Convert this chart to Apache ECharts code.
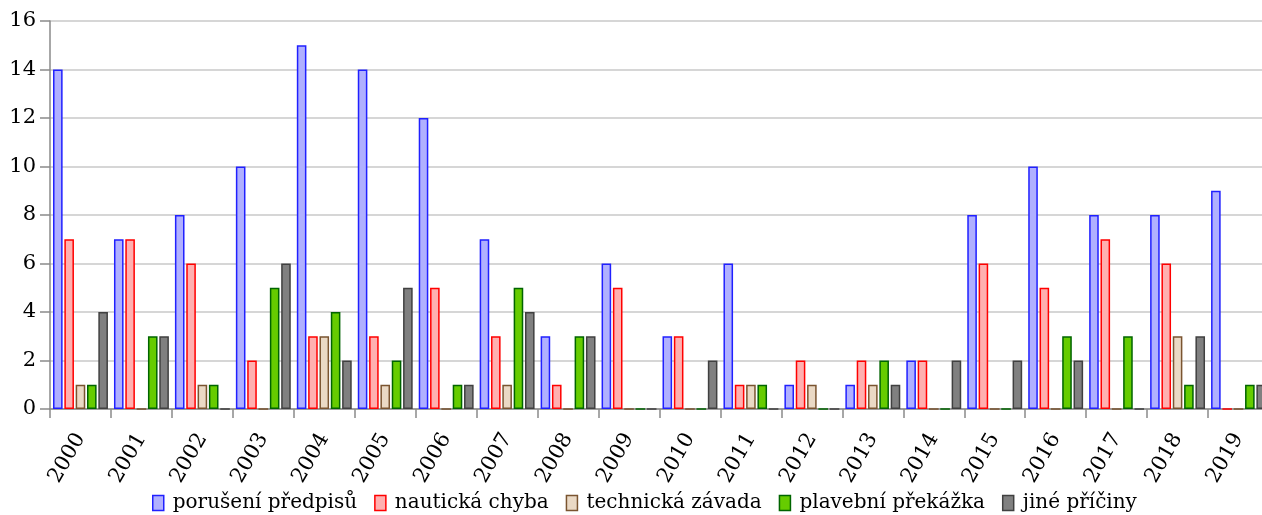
<!DOCTYPE html>
<html><head><meta charset="utf-8">
<script src="https://cdn.jsdelivr.net/npm/echarts@6/dist/echarts.min.js"></script>
<style>html,body{margin:0;padding:0;background:#fff;overflow:hidden}#c{width:1272px;height:515px}</style>
</head><body><div id="c"></div>
<script>
const years = ['2000','2001','2002','2003','2004','2005','2006','2007','2008','2009','2010','2011','2012','2013','2014','2015','2016','2017','2018','2019'];
const seriesNames = ['porušení předpisů','nautická chyba','technická závada','plavební překážka','jiné příčiny'];
const poruseni  = [14,7,8,10,15,14,12,7,3,6,3,6,1,1,2,8,10,8,8,9];
const nauticka  = [7,7,6,2,3,3,5,3,1,5,3,1,2,2,2,6,5,7,6,0];
const technicka = [1,0,1,0,3,1,0,1,0,0,0,1,1,1,0,0,0,0,3,0];
const plavebni  = [1,3,1,5,4,2,1,5,3,0,0,1,0,2,0,0,3,3,1,1];
const jine      = [4,3,0,6,2,5,1,4,3,0,2,0,0,1,2,2,2,0,3,1];
const yTicks = [0,2,4,6,8,10,12,14,16];

const fills = ['#b0b0ff','#ffb0b0','#ead9c5','#66cc00','#808080'];
const borders = ['#2020ff','#ff0000','#7a5430','#006400','#404040'];
const values = [poruseni, nauticka, technicka, plavebni, jine];
const FONT = '"DejaVu Serif", "Liberation Serif", serif';

const chart = echarts.init(document.getElementById('c'), null, {renderer:'canvas'});
chart.setOption({
  animation:false,
  grid:{left:50, top:21, width:1219, bottom:106, containLabel:false},
  legend:{
    bottom:-3, left:147, itemWidth:11, itemHeight:15, itemGap:17, icon:'rect',
    textStyle:{fontFamily:FONT, fontSize:20, color:'#000', padding:[0,0,0,4]},
    data: seriesNames.map((n,i)=>({name:n, itemStyle:{color:fills[i], borderColor:borders[i], borderWidth:1.5}}))
  },
  xAxis:{
    type:'category', data:years, boundaryGap:true,
    axisLine:{lineStyle:{color:'#8a8a8a', width:1.5}},
    axisTick:{show:true, length:9, lineStyle:{color:'#8a8a8a', width:1.5}},
    axisLabel:{rotate:60, fontFamily:FONT, fontSize:21, color:'#000', margin:26, interval:0}
  },
  yAxis:{
    type:'value', min:0, max:16, interval:2,
    axisLine:{show:true, lineStyle:{color:'#8a8a8a', width:1.5}},
    axisTick:{show:true, length:10, lineStyle:{color:'#8a8a8a', width:1.5}},
    splitLine:{lineStyle:{color:'#c8c8c8', width:1.5}},
    axisLabel:{fontFamily:FONT, fontSize:21, color:'#000', margin:14,
      formatter:v=>yTicks.includes(v)?String(v):''}
  },
  series: seriesNames.map((n,i)=>({
    name:n, type:'bar', data:values[i],
    barWidth:9.6, barGap:'18%',
    itemStyle:{color:fills[i], borderColor:borders[i], borderWidth:1.5}
  }))
});
</script></body></html>
